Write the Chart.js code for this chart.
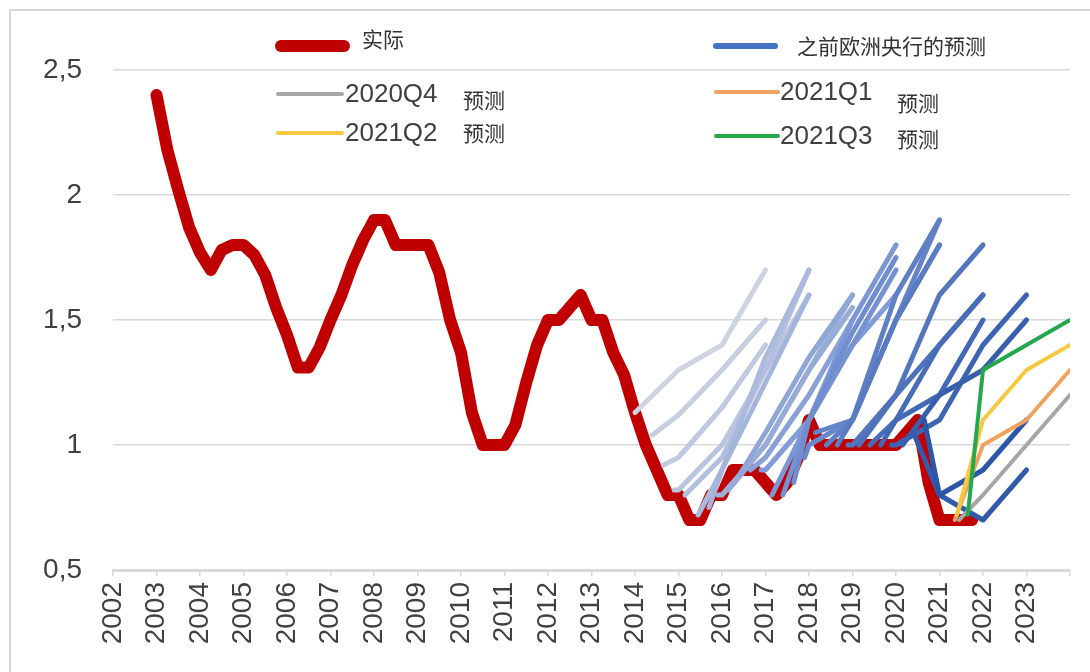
<!DOCTYPE html>
<html>
<head>
<meta charset="utf-8">
<script src="https://cdn.jsdelivr.net/npm/chart.js@4.4.1/dist/chart.umd.min.js"></script>
<style>
    html, body { margin: 0; padding: 0; background: #fff; }
    #wrap { width: 1090px; height: 672px; }
</style>
</head>
<body>
<div id="wrap"><canvas id="ecbChart" width="1090" height="672"></canvas></div>
<script>
// 实际 (quarterly, from 2003Q1)
const actualStart = 2003.0;
const actualValues = [
    2.4, 2.18, 2.02, 1.87, 1.77, 1.7, 1.78, 1.8, 1.8, 1.76,
    1.68, 1.55, 1.44, 1.31, 1.31, 1.39, 1.5, 1.6, 1.72, 1.82,
    1.9, 1.9, 1.8, 1.8, 1.8, 1.8, 1.69, 1.5, 1.37, 1.13,
    1.0, 1.0, 1.0, 1.08, 1.25, 1.4, 1.5, 1.5, 1.55, 1.6,
    1.5, 1.5, 1.37, 1.28, 1.13, 1.0, 0.9, 0.8, 0.8, 0.7,
    0.7, 0.8, 0.8, 0.9, 0.9, 0.9, 0.85, 0.8, 0.85, 0.95,
    1.1, 1.0, 1.0, 1.0, 1.0, 1.0, 1.0, 1.0, 1.0, 1.05,
    1.1, 0.85, 0.7, 0.7, 0.7, 0.7
];

// 之前欧洲央行的预测 (one line per projection round)
const blueYears = [
    [2014.0, 2015, 2016, 2017],
    [2014.4, 2015, 2016, 2017],
    [2014.65, 2015, 2016, 2017],
    [2014.9, 2015, 2016, 2017, 2018],
    [2015.15, 2016, 2017, 2018],
    [2015.45, 2016, 2017, 2018],
    [2015.7, 2016, 2017, 2018],
    [2015.9, 2016, 2017, 2018, 2019],
    [2016.15, 2017, 2018, 2019],
    [2016.4, 2017, 2018, 2019],
    [2016.65, 2017, 2018, 2019],
    [2016.9, 2017, 2018, 2019, 2020],
    [2017.15, 2018, 2019, 2020],
    [2017.4, 2018, 2019, 2020],
    [2017.65, 2018, 2019, 2020],
    [2017.9, 2018, 2019, 2020, 2021],
    [2018.15, 2019, 2020, 2021],
    [2018.4, 2019, 2020, 2021],
    [2018.65, 2019, 2020, 2021],
    [2018.9, 2019, 2020, 2021, 2022],
    [2019.15, 2020, 2021, 2022],
    [2019.4, 2020, 2021, 2022],
    [2019.65, 2020, 2021, 2022],
    [2019.9, 2020, 2021, 2022, 2023],
    [2020.15, 2021, 2022, 2023],
    [2020.4, 2021, 2022, 2023],
    [2020.65, 2021, 2022, 2023]
];
const blueValues = [
    [1.13, 1.3, 1.4, 1.7],
    [1.04, 1.12, 1.3, 1.5],
    [0.92, 0.95, 1.15, 1.4],
    [0.82, 0.82, 1.0, 1.3, 1.6],
    [0.8, 0.95, 1.3, 1.7],
    [0.72, 0.9, 1.35, 1.7],
    [0.75, 0.9, 1.25, 1.6],
    [0.8, 0.8, 1.0, 1.3, 1.6],
    [0.82, 1.0, 1.3, 1.55],
    [0.88, 1.05, 1.35, 1.6],
    [0.9, 0.95, 1.2, 1.5],
    [0.9, 0.9, 1.1, 1.4, 1.6],
    [0.8, 1.1, 1.5, 1.8],
    [0.8, 1.1, 1.4, 1.7],
    [0.85, 1.1, 1.45, 1.75],
    [0.95, 1.0, 1.1, 1.5, 1.8],
    [1.05, 1.1, 1.5, 1.9],
    [1.0, 1.1, 1.6, 1.9],
    [1.0, 1.1, 1.5, 1.8],
    [1.0, 1.0, 1.2, 1.6, 1.8],
    [1.0, 1.2, 1.4, 1.6],
    [1.0, 1.1, 1.4, 1.6],
    [1.0, 1.1, 1.2, 1.5],
    [1.0, 1.0, 1.1, 1.4, 1.6],
    [1.0, 1.2, 1.3, 1.5],
    [1.05, 0.8, 0.7, 0.9],
    [1.1, 0.8, 0.9, 1.1]
];

// 最近几次预测
const recentNames = ['2020Q4', '2021Q1', '2021Q2', '2021Q3'];
const recentYears = [
    [2021.45, 2022, 2023, 2024],
    [2021.35, 2022, 2023, 2024],
    [2021.4, 2022, 2023, 2024],
    [2021.65, 2022, 2023, 2024]
];
const recentValues = [
    [0.7, 0.8, 1.0, 1.2],
    [0.7, 1.0, 1.1, 1.3],
    [0.72, 1.1, 1.3, 1.4],
    [0.72, 1.3, 1.4, 1.5]
];
const recentColors = ['#a6a6a6', '#f0a35e', '#f9c841', '#23a84c'];

const yTicks = [0.5, 1, 1.5, 2, 2.5];
const yearLabels = ['2002', '2003', '2004', '2005', '2006', '2007', '2008', '2009', '2010', '2011', '2012',
    '2013', '2014', '2015', '2016', '2017', '2018', '2019', '2020', '2021', '2022', '2023'];

const toPoints = (xs, ys) => xs.map((x, i) => ({ x: x, y: ys[i] }));

// older rounds pale grey-blue, newer rounds dark blue
function blueShade(i, n) {
    const t = i / (n - 1);
    const c0 = [206, 211, 224], cm = [125, 152, 214], c1 = [44, 86, 168];
    const a = t < 0.45 ? c0 : cm;
    const b = t < 0.45 ? cm : c1;
    const f = t < 0.45 ? t / 0.45 : (t - 0.45) / 0.55;
    const c = a.map((v, k) => Math.round(v + (b[k] - v) * f));
    return 'rgb(' + c.join(',') + ')';
}

const datasets = [];
recentNames.forEach((name, i) => {
    datasets.push({
        label: name + ' 预测',
        data: toPoints(recentYears[i], recentValues[i]),
        borderColor: recentColors[i],
        borderWidth: 4,
        order: 3 - i
    });
});
blueValues.forEach((vals, i) => {
    datasets.push({
        label: '之前欧洲央行的预测',
        data: toPoints(blueYears[i], vals),
        borderColor: blueShade(i, blueValues.length),
        borderWidth: 5,
        order: 10 + blueValues.length - i
    });
});
datasets.push({
    label: '实际',
    data: actualValues.map((v, i) => ({ x: actualStart + i * 0.25, y: v })),
    borderColor: '#c00000',
    borderWidth: 12,
    order: 100
});

// 图例 (drawn inside the plot like the original)
const legendItems = [
    { color: '#c00000', width: 12, x0: 281, x1: 344, y: 46, parts: [['实际', 362, 39, 'cjk']] },
    { color: '#a6a6a6', width: 4, x0: 278, x1: 342, y: 94, parts: [['2020Q4', 345, 95, 'num'], ['预测', 463, 100, 'cjk']] },
    { color: '#f9c841', width: 4, x0: 278, x1: 342, y: 133, parts: [['2021Q2', 345, 134, 'num'], ['预测', 463, 133, 'cjk']] },
    { color: '#4472c4', width: 6, x0: 716, x1: 775, y: 46, parts: [['之前欧洲央行的预测', 797, 46, 'cjk']] },
    { color: '#f0a35e', width: 4, x0: 716, x1: 778, y: 92, parts: [['2021Q1', 780, 93, 'num'], ['预测', 897, 103, 'cjk']] },
    { color: '#23a84c', width: 4, x0: 716, x1: 778, y: 136, parts: [['2021Q3', 780, 137, 'num'], ['预测', 897, 139, 'cjk']] }
];

const framePlugin = {
    id: 'frameAndLegend',
    beforeDraw(chart) {
        const ctx = chart.ctx;
        ctx.save();
        ctx.fillStyle = '#ffffff';
        ctx.fillRect(0, 0, chart.width, chart.height);
        ctx.strokeStyle = '#d6d6d6';
        ctx.lineWidth = 2;
        ctx.strokeRect(10, 10, chart.width + 20, chart.height + 20);
        ctx.restore();
    },
    afterDraw(chart) {
        const ctx = chart.ctx;
        ctx.save();
        legendItems.forEach(item => {
            ctx.strokeStyle = item.color;
            ctx.lineWidth = item.width;
            ctx.lineCap = 'round';
            ctx.beginPath();
            ctx.moveTo(item.x0, item.y);
            ctx.lineTo(item.x1, item.y);
            ctx.stroke();
            item.parts.forEach(p => {
                ctx.textBaseline = 'middle';
                ctx.textAlign = 'left';
                if (p[3] === 'num') {
                    ctx.font = '26px "Liberation Sans", Arial, sans-serif';
                    ctx.fillStyle = '#404040';
                } else {
                    ctx.font = '21px "Noto Sans CJK SC", sans-serif';
                    ctx.fillStyle = '#333333';
                }
                ctx.fillText(p[0], p[1], p[2]);
            });
        });
        ctx.restore();
    }
};

const config = {
    type: 'line',
    data: { datasets: datasets },
    options: {
        responsive: false,
        animation: false,
        layout: { padding: { left: 0, right: 20, top: 70, bottom: 0 } },
        elements: {
            point: { radius: 0 },
            line: { tension: 0, borderJoinStyle: 'round', borderCapStyle: 'round', fill: false }
        },
        plugins: {
            legend: { display: false },
            tooltip: { enabled: false }
        },
        scales: {
            x: {
                type: 'linear',
                min: 2002,
                max: 2024,
                afterFit: scale => {
                    scale.height = 102;
                    scale.paddingLeft = 0;
                    scale.paddingRight = 0;
                },
                afterBuildTicks: scale => {
                    scale.ticks = [];
                    for (let y = 2002; y <= 2024; y++) scale.ticks.push({ value: y });
                },
                ticks: {
                    autoSkip: false,
                    minRotation: 90,
                    maxRotation: 90,
                    padding: 6,
                    color: '#404040',
                    font: { family: '"Liberation Sans", Arial, sans-serif', size: 28 },
                    callback: v => yearLabels.includes(String(v)) ? String(v) : ''
                },
                grid: { drawOnChartArea: false, drawTicks: true, tickLength: 6, color: '#d9d9d9', lineWidth: 1.5 },
                border: { display: true, color: '#d9d9d9', width: 3 }
            },
            y: {
                min: 0.5,
                max: 2.5,
                afterFit: scale => { scale.width = 113; },
                afterBuildTicks: scale => { scale.ticks = yTicks.map(v => ({ value: v })); },
                ticks: {
                    padding: 31,
                    color: '#404040',
                    font: { family: '"Liberation Sans", Arial, sans-serif', size: 28 },
                    callback: v => String(v).replace('.', ',')
                },
                grid: { drawTicks: false, color: '#d9d9d9', lineWidth: 1.5 },
                border: { display: false }
            }
        }
    },
    plugins: [framePlugin]
};

const ecbChart = new Chart(document.getElementById('ecbChart'), config);
</script>
</body>
</html>
